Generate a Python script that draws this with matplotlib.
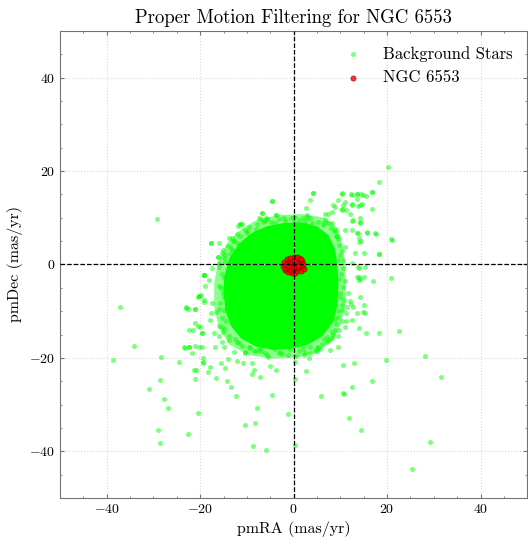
import matplotlib
matplotlib.use("Agg")
import matplotlib.pyplot as plt
import numpy as np

plt.rcParams.update({
    "font.family": "serif",
    "font.serif": ["cmr10"],
    "mathtext.fontset": "cm",
    "axes.formatter.use_mathtext": True,
    "axes.unicode_minus": True,
    "xtick.direction": "in",
    "ytick.direction": "in",
    "xtick.top": True,
    "ytick.right": True,
    "xtick.minor.visible": True,
    "ytick.minor.visible": True,
    "xtick.major.size": 3,
    "ytick.major.size": 3,
    "xtick.minor.size": 1.5,
    "ytick.minor.size": 1.5,
})

# dense part of the field distribution (pmRA, pmDec outline)
core_ra = [9.6, 9.4, 8.9, 7.5, 5.0, 1.8, -2.0, -5.8, -9.0, -11.8, -13.8, -14.8, -15.0,
           -14.6, -13.4, -11.2, -8.0, -4.2, -0.5, 3.2, 6.2, 8.4, 9.4]
core_dec = [-4.5, -0.5, 3.2, 6.2, 8.2, 9.0, 8.9, 8.2, 6.7, 4.4, 1.2, -2.5, -6.0, -9.8,
            -13.2, -15.9, -17.6, -18.3, -18.1, -17.1, -15.3, -12.4, -8.7]

# looser envelope around it
halo_ra = [11.2, 11.0, 10.5, 9.7, 6.7, 2.0, -3.0, -7.6, -11.2, -14.2, -16.2, -17.0, -17.0,
           -16.0, -13.7, -9.6, -4.5, 0.5, 5.2, 8.4, 10.2, 11.1]
halo_dec = [-4.5, 0.0, 4.0, 7.6, 10.0, 10.8, 10.6, 9.7, 7.6, 4.6, 0.5, -4.0, -9.0, -13.6,
            -17.2, -19.4, -20.2, -20.0, -18.7, -16.2, -12.6, -8.5]

# individual background stars
bg_ra = [
    20.1, 18.3, 20.9, 20.9, 18.3, 17.0, 15.1, 17.7, 15.8, 16.7, 16.7, 15.4, 14.5, 13.5, 12.3,
    10.4, 4.2, 3.5, 2.6, 9.6, 10.5, 12.5, 13.6, 14.6, 13.7, 14.3, 14.3, 12.6, 11.3, 10.4,
    8.2, 7.3, 8.5, 13.7, 14.0, 13.7, 13.6, 14.2,
    22.6, 28.2, 31.5, 29.1, 25.3, 19.8, 18.2, 15.5, 13.9, 15.2, 16.7, 13.0, 10.5, 12.5,
    10.5, 10.8, 11.9, 14.5, 5.8, 2.7, 0.4, 0.4, -1.1, 0.4, 3.2, 2.3, 3.6, 5.1, 5.6, 7.7,
    9.6, 1.8, 6.4, 3.9, 9.7, 8.2, 7.1, 11.3, 8.9, 12.3, 12.7, 11.2, 11.6, 10.3, 11.4, 12.1,
    -37.2, -34.2, -38.7, -28.4, -24.6, -28.7, -31.0, -27.8, -26.9, -29.0, -28.6, -22.7,
    -20.4, -21.0, -21.3, -20.9, -18.4, -17.9, -16.7, -15.5, -14.6, -14.3, -13.4, -12.4,
    -14.1, -12.1, -10.8, -9.0, -8.5, -9.0, -7.1, -5.0, -3.7, -4.6, -7.8, -10.4, -8.3, -8.6,
    -6.0, -19.5, -19.4, -19.7, -21.0, -22.3, -23.3, -21.6, -20.5, -20.1, -23.1, -22.6,
    -21.2, -19.2, -16.9, -14.8, -12.8, -10.5, -8.5, -7.1, -6.2, -17.7, -17.1, -15.3, -16.0,
    -29.3, -19.2, -20.4, -19.9,
    -4.6, -6.8, -3.8, -7.0, -5.8, -11.5, -11.0, -13.2, -17.6, -16.2, -19.1, -20.2, -19.6,
    -19.4, 0.0, 2.8, 14.5, 13.9, 13.9, 14.8, 15.1,
    -11.4, -11.9, -7.5, -5.9, -6.8, -3.8, -4.6, 0.0, 2.9, 4.2, 6.8, 8.9, 10.3, 12.5, 13.5,
    14.8, 16.7, 11.0, 12.5, 14.3, 10.3, 12.1, 12.8, 14.3, 6.8, 8.2, 8.9, 11.0, 12.5, 13.5,
    13.9, 15.7, 17.5, 18.2, 21.0, -8.2, -10.0, -13.9, -16.0, -17.6, -16.2, -19.1, -20.2,
    -19.6, -23.1, -21.2, -19.2, -17.4, -16.7, -17.8, -15.3, -16.0, -13.9, -11.7, -9.6, -7.5,
    -4.6, -3.2, -1.1, 1.1, 2.5, 5.3, 7.5, 9.6, 11.0, 12.5, 13.5, 14.3, 13.9, 15.0, 15.3,
    12.5, 13.2, 11.0, -18.9, -18.2, -17.4, -16.0, -14.6, -13.2, -12.1, -9.6, -20.3, -21.7,
    -22.4, -23.5, -21.0, -22.4,
    -14.8, -15.0, -14.5, -12.5, -8.0, -3.0, 2.0, 6.0, 8.8, 9.6, 10.0, 10.2, 10.0, 9.6, 8.0,
    4.0, 0.0, -4.0, -8.0, -11.5, -13.5, -14.6, -15.6, -16.0, -15.2, -10.5, -5.5, 0.5, 4.5,
    8.2, 10.4, 10.8, 10.9, 10.6, 9.0, 6.5, 2.0, -2.0, -6.5, -10.0, -12.8, -15.3,
    -9.5, -7.8, -6.2, -4.8, -3.2, -1.8, -0.6, 1.2, 2.4, 3.6, 5.2, 6.3, 7.4, 8.6, 9.3,
    -12.2, -13.0, -10.4, 9.8, 10.3, 9.6, 10.5, 9.8, 10.6, 9.9, 10.4, 9.5, 9.1, 8.5, 7.2,
    5.0, 3.6, 1.2, -0.8, -2.4, -4.0, -5.6, -7.0, -9.4, -11.0, -12.2, -13.8,
    -14.8, -15.4, -15.0, -15.8, -15.2, -16.0, -15.4, -15.9, -14.9, -15.2, -14.0, -13.6,
]
bg_dec = [
    20.8, 17.6, 5.4, -2.9, 2.2, -3.5, 2.5, 6.5, 6.9, 11.9, 15.5, 14.7, 15.0, 15.1, 15.0,
    15.3, 15.4, 13.9, 12.1, 13.9, 12.7, 12.9, 14.1, 12.9, 12.5, 10.0, 9.1, 9.4, 11.6, 11.8,
    11.3, 10.9, 12.7, 6.8, 5.7, -0.6, -2.6, -3.1,
    -14.3, -19.5, -24.0, -38.0, -43.8, -20.4, -14.7, -14.7, -13.7, -10.4, -24.9, -21.0,
    -21.5, -26.2, -27.5, -27.7, -32.9, -35.5, -28.1, -22.8, -24.5, -38.7, -32.0, -20.8,
    -20.0, -19.3, -19.0, -18.6, -18.1, -18.4, -17.6, -17.3, -16.0, -16.0, -14.0, -14.4,
    -15.5, -12.1, -11.7, -8.4, -9.2, -10.3, -6.2, -9.7, -9.0, -7.9,
    -9.1, -17.5, -20.4, -19.9, -20.8, -24.7, -26.7, -28.7, -30.8, -35.5, -38.3, -36.4,
    -31.9, -24.5, -22.6, -22.7, -23.1, -22.0, -24.4, -21.2, -22.1, -24.9, -26.2, -28.1,
    -20.3, -20.6, -21.1, -21.0, -22.7, -23.4, -24.0, -21.7, -22.7, -28.0, -30.7, -34.4,
    -33.9, -38.8, -39.8, -20.8, -20.0, -17.6, -17.4, -17.6, -17.8, -14.1, -13.1, -13.3,
    -9.4, -9.5, -9.6, -8.0, -17.6, -17.6, -18.8, -18.8, -18.6, -17.9, -19.0, -10.4, -14.7,
    -16.5, -13.1,
    9.7, -2.3, -6.9, -6.6,
    13.6, 11.1, 10.6, 9.7, 9.7, 8.7, 8.6, 5.6, 4.7, 1.5, -2.2, -6.7, -14.7, -21.0, 10.2,
    10.1, 5.0, -0.8, -2.6, -10.2, -8.7,
    8.6, 8.2, 9.9, 9.9, 11.1, 10.6, 13.6, 10.2, 10.6, 15.4, 10.9, 12.4, 15.2, 14.9, 15.1,
    14.9, 15.6, 13.4, 12.7, 12.7, 11.7, 10.9, 9.5, 8.8, 9.5, 8.8, 7.4, 7.4, 7.4, 6.7, 4.9,
    6.7, 6.7, 2.2, 5.2, 6.7, 6.7, 5.6, 4.5, 4.7, 1.5, -2.2, -6.7, -14.7, -9.2, -9.6, -7.6,
    -8.3, -10.1, -11.9, -13.3, -15.4, -16.1, -16.8, -17.6, -18.3, -17.6, -19.0, -19.3,
    -16.8, -19.0, -17.6, -16.1, -15.4, -13.3, -11.9, -10.4, -6.9, -3.3, -2.6, -0.5, 0.3,
    2.4, 3.8, -4.7, -3.3, -0.8, 0.3, 2.0, 3.1, 4.5, 4.9, -17.6, -19.0, -17.6, -17.6,
    -12.6, -14.0,
    -3.0, -7.0, -12.0, -16.0, -18.5, -18.8, -18.2, -17.0, -14.0, -10.0, -6.0, -2.0, 2.0,
    5.5, 7.8, 8.8, 9.2, 8.8, 7.5, 6.2, 3.5, 0.5, -5.0, -9.5, -14.5, -19.0, -19.8, -19.6,
    -18.6, -15.8, -12.0, -7.5, -3.5, 1.0, 6.0, 8.8, 9.9, 10.0, 9.0, 7.2, 5.0, 2.5,
    8.0, 8.6, 9.3, 9.0, 9.8, 9.4, 9.9, 9.6, 9.2, 9.9, 9.1, 8.4, 8.9, 7.2, 6.0,
    6.6, 5.0, 7.4, 4.2, 2.8, 1.0, -0.8, -3.2, -4.8, -7.0, -8.6, -11.2, -12.8, -15.0, -16.5,
    -17.8, -17.6, -18.6, -18.2, -19.2, -18.1, -19.4, -18.5, -17.9, -17.5, -16.7, -15.4,
    -13.8, -11.5, -9.8, -8.2, -6.0, -4.5, -2.0, -0.5, 1.4, 3.0, 3.9, 2.2,
]

# cluster members
cl_ra = [-2.2, -2.0, -1.8, -1.5, -1.4, -1.2, -1.0, -0.9, -0.7, -0.5, -0.4, -0.3, -0.1, 0.0,
         0.1, 0.2, 0.3, 0.5, 0.6, 0.7, 0.9, 1.1, 1.2, 1.4, 1.5, 1.7, 1.9, 2.1, 2.2, -1.9,
         -0.8, 0.4, 1.0, -0.2, -1.1, 0.8, -0.6, 1.6, -1.6, 0.0]
cl_dec = [-0.3, 0.6, -1.1, 1.1, -0.2, -1.6, 0.5, -0.9, 1.4, -0.1, -1.9, 0.8, -1.2, 1.6, 0.2,
          -0.6, -1.8, 1.0, -0.2, -1.3, 0.4, 1.3, -0.8, 0.0, -1.5, 0.8, -0.5, 0.2, -1.0, -0.7,
          0.1, 0.5, -0.4, -0.5, -0.4, 1.6, -1.5, 1.2, 0.2, -1.0]

fig = plt.figure(figsize=(5.28, 5.39), dpi=100)
ax = fig.add_axes([0.1136, 0.0761, 0.885, 0.8664])

ax.grid(True, which="major", color="0.85", linestyle=":", linewidth=0.8, zorder=0)
ax.fill(halo_ra, halo_dec, color="lime", alpha=0.45, linewidth=0, zorder=1)
ax.fill(core_ra, core_dec, color="lime", linewidth=0, zorder=1.5)
ax.scatter(bg_ra, bg_dec, s=13, c="lime", alpha=0.5, linewidths=0, zorder=2,
           label="Background Stars")
ax.scatter(cl_ra, cl_dec, s=14, c="red", edgecolors="darkred", linewidths=0.5, alpha=0.8,
           zorder=3, label="NGC 6553")
ax.axhline(0, color="k", linestyle="--", linewidth=0.9, zorder=4)
ax.axvline(0, color="k", linestyle="--", linewidth=0.9, zorder=4)

ax.set_xlim(-50, 50)
ax.set_ylim(-50, 50)
ax.set_xticks([-40, -20, 0, 20, 40])
ax.set_yticks([-40, -20, 0, 20, 40])
for s in ax.spines.values():
    s.set_color("0.45")
ax.tick_params(which="both", colors="0.45", labelcolor="k", labelsize=10)

ax.set_xlabel("pmRA (mas/yr)", fontsize=11.5)
ax.set_ylabel("pmDec (mas/yr)", fontsize=11.5)
ax.set_title("Proper Motion Filtering for NGC 6553", fontsize=13.5, pad=6)
ax.legend(loc="upper right", frameon=False, fontsize=12)

plt.savefig("out.png", dpi=100)
